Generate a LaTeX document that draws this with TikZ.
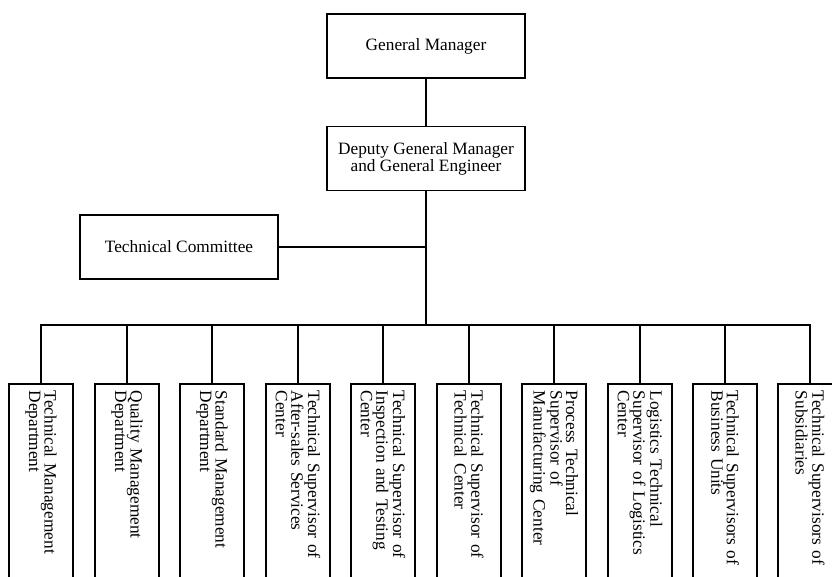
\documentclass[tikz,border=0pt]{standalone}
\usepackage{fontspec}
\setmainfont{Liberation Serif}
\usetikzlibrary{positioning}
\tikzset{
  unit/.style={draw,line width=1.5pt,minimum width=198pt,minimum height=64pt,align=center,inner sep=2pt},
  dept/.style={draw,line width=1.5pt,rotate=-90,anchor=west,minimum height=64pt,text width=200pt,inner xsep=7pt,inner ysep=0pt,align=left},
  link/.style={line width=1.5pt}
}
\newcommand*{\chartfont}{\fontsize{17.3}{15.5}\selectfont}

\begin{document}
\begin{tikzpicture}[x=1pt,y=1pt,font=\chartfont]
\useasboundingbox (0,0) rectangle (832,576);
\clip (0,0) rectangle (832,576);
% Draw the top of the chart
\node[unit] (gm) at (426,530) {General Manager};
\node[unit,below=47pt of gm] (dgm) {Deputy General Manager\\and General Engineer};
\node[unit] (tc) at (179,329) {Technical Committee};
\coordinate (bus) at (426,251);
\draw[link] (gm) -- (dgm);
\draw[link] (dgm) -- (bus);
\draw[link] (tc) -- (tc -| bus);

% Draw the departments, turned on their side
\foreach \x/\lbl [count=\i] in {41/{Technical Management\\Department},
    127/{Quality Management\\Department},
    212/{Standard Management\\Department},
    298/{Technical Supervisor of\\After-sales Services\\Center},
    383/{Technical Supervisor of\\Inspection and Testing\\Center},
    469/{Technical Supervisor of\\Technical Center},
    554/{Process Technical\\Supervisor of\\Manufacturing Center},
    640/{Logistics Technical\\Supervisor of Logistics\\Center},
    725/{Technical Supervisors of\\Business Units},
    810/{Technical Supervisors of\\Subsidiaries}}
  \node[dept] (b\i) at (\x,193) {\lbl};

% Connect them to the bus
\foreach \i in {1,...,10}
  \draw[link] (bus) -| (b\i.west);
\end{tikzpicture}
\end{document}
